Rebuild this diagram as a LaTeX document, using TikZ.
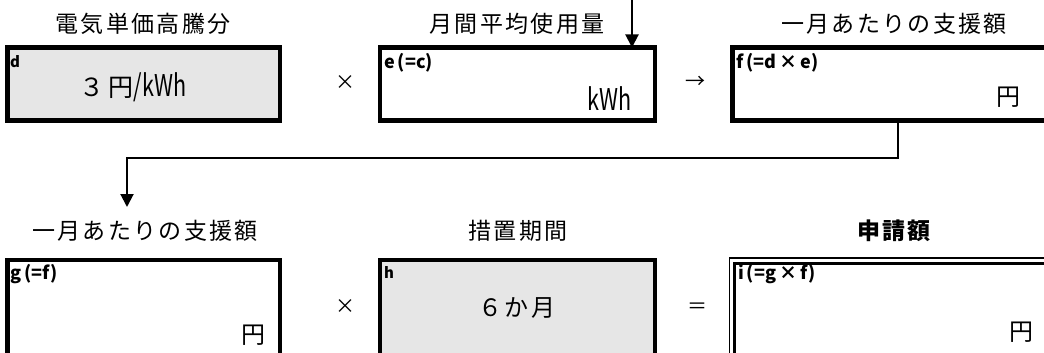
\documentclass[tikz,border=0pt]{standalone}
\usepackage{fontspec}
\setmainfont{Noto Sans CJK JP}
\newfontfamily\lblfont[LetterSpace=10]{Noto Sans CJK JP}
\usetikzlibrary{arrows.meta}
\definecolor{boxgray}{HTML}{E6E6E6}
\tikzset{
  box/.style={draw, line width=4.5pt, rectangle, inner sep=0pt, outer sep=0pt, anchor=north west},
  dbloute/.style={draw, line width=1.8pt, rectangle, inner sep=0pt, outer sep=0pt, anchor=north west},
  dblinner/.style={draw, line width=3.2pt, rectangle, inner sep=0pt, outer sep=0pt, anchor=north west},
  title/.style={font=\lblfont\fontsize{23}{23}\selectfont, inner sep=0pt},
  tag/.style={font=\bfseries\fontsize{18}{18}\selectfont, inner sep=0pt, anchor=base west},
  smalltag/.style={font=\bfseries\fontsize{15}{15}\selectfont, inner sep=0pt, anchor=base west},
  val/.style={font=\lblfont\fontsize{24}{24}\selectfont, inner sep=0pt},
  op/.style={font=\fontsize{20}{20}\selectfont, inner sep=0pt},
  conn/.style={line width=2pt, -{Triangle[width=13pt,length=13pt]}}
}
\newcommand{\condensed}[1]{\scalebox{0.72}[1]{#1}}
\begin{document}
\begin{tikzpicture}[x=1pt,y=-1pt]
\useasboundingbox (0,0) rectangle (1044,353);
\clip (0,0) rectangle (1044,353);
% top row boxes
\node[box, fill=boxgray, minimum width=272.5pt, minimum height=73pt] (d) at (7.5,47.5) {};
\node[box, minimum width=275pt, minimum height=73pt] (e) at (380,47.5) {};
\node[box, minimum width=400pt, minimum height=73pt] (f) at (732.5,47.5) {};
% bottom row boxes
\node[box, minimum width=272.5pt, minimum height=150pt] (g) at (7.5,260) {};
\node[box, fill=boxgray, minimum width=275pt, minimum height=150pt] (h) at (380,260) {};
\node[dbloute, minimum width=400pt, minimum height=150pt] (iout) at (729.5,258) {};
\node[dblinner, minimum width=400pt, minimum height=150pt] (i) at (734.5,263.5) {};
% titles
\node[title] (td) at (143,24) {電気単価高騰分};
\node[title] (te) at (517,24) {月間平均使用量};
\node[title] (tf) at (894,24) {一月あたりの支援額};
\node[title] (tg) at (145,231) {一月あたりの支援額};
\node[title] (th) at (518,231) {措置期間};
\node[title, font=\bfseries\lblfont\fontsize{23}{23}\selectfont] (ti) at (894,231) {\bfseries 申請額};
% tags
\node[smalltag] (dtag) at (10,67) {d};
\node[tag] (etag) at (384,69) {e\,(=c)};
\node[tag] (ftag) at (736,69) {f\,(=d\,×\,e)};
\node[tag] (gtag) at (10,279) {g\,(=f)};
\node[smalltag] (htag) at (384,278) {h};
\node[tag] (itag) at (738,279) {i\,(=g\,×\,f)};
% values
\node[val, font=\fontsize{25}{25}\selectfont, anchor=base] (dval) at (133,96) {３\hspace{4pt}円{\fontsize{30}{30}\selectfont\condensed{/kWh}}};
\node[val, font=\fontsize{30}{30}\selectfont, anchor=east] (eval) at (632,99) {\condensed{kWh}};
\node[val] (fval) at (1008,97) {円};
\node[val] (gval) at (253,335) {円};
\node[val] (hval) at (517,308) {６か月};
\node[val] (ival) at (1021,332) {円};
% operators
\node[op] (op1) at (345,83) {×};
\node[op] (op2) at (695,82) {→};
\node[op] (op3) at (345,307) {×};
\node[op] (op4) at (697,308) {＝};
% connectors
\coordinate (topin) at (632,0);
\draw[conn] (topin) -- (topin |- e.north);
\coordinate (fx) at (898,0);
\coordinate (gturn) at (127,158);
\coordinate (gtip) at (127,207);
\draw[conn] (fx |- f.south) |- (gturn) -- (gtip);
\end{tikzpicture}
\end{document}
